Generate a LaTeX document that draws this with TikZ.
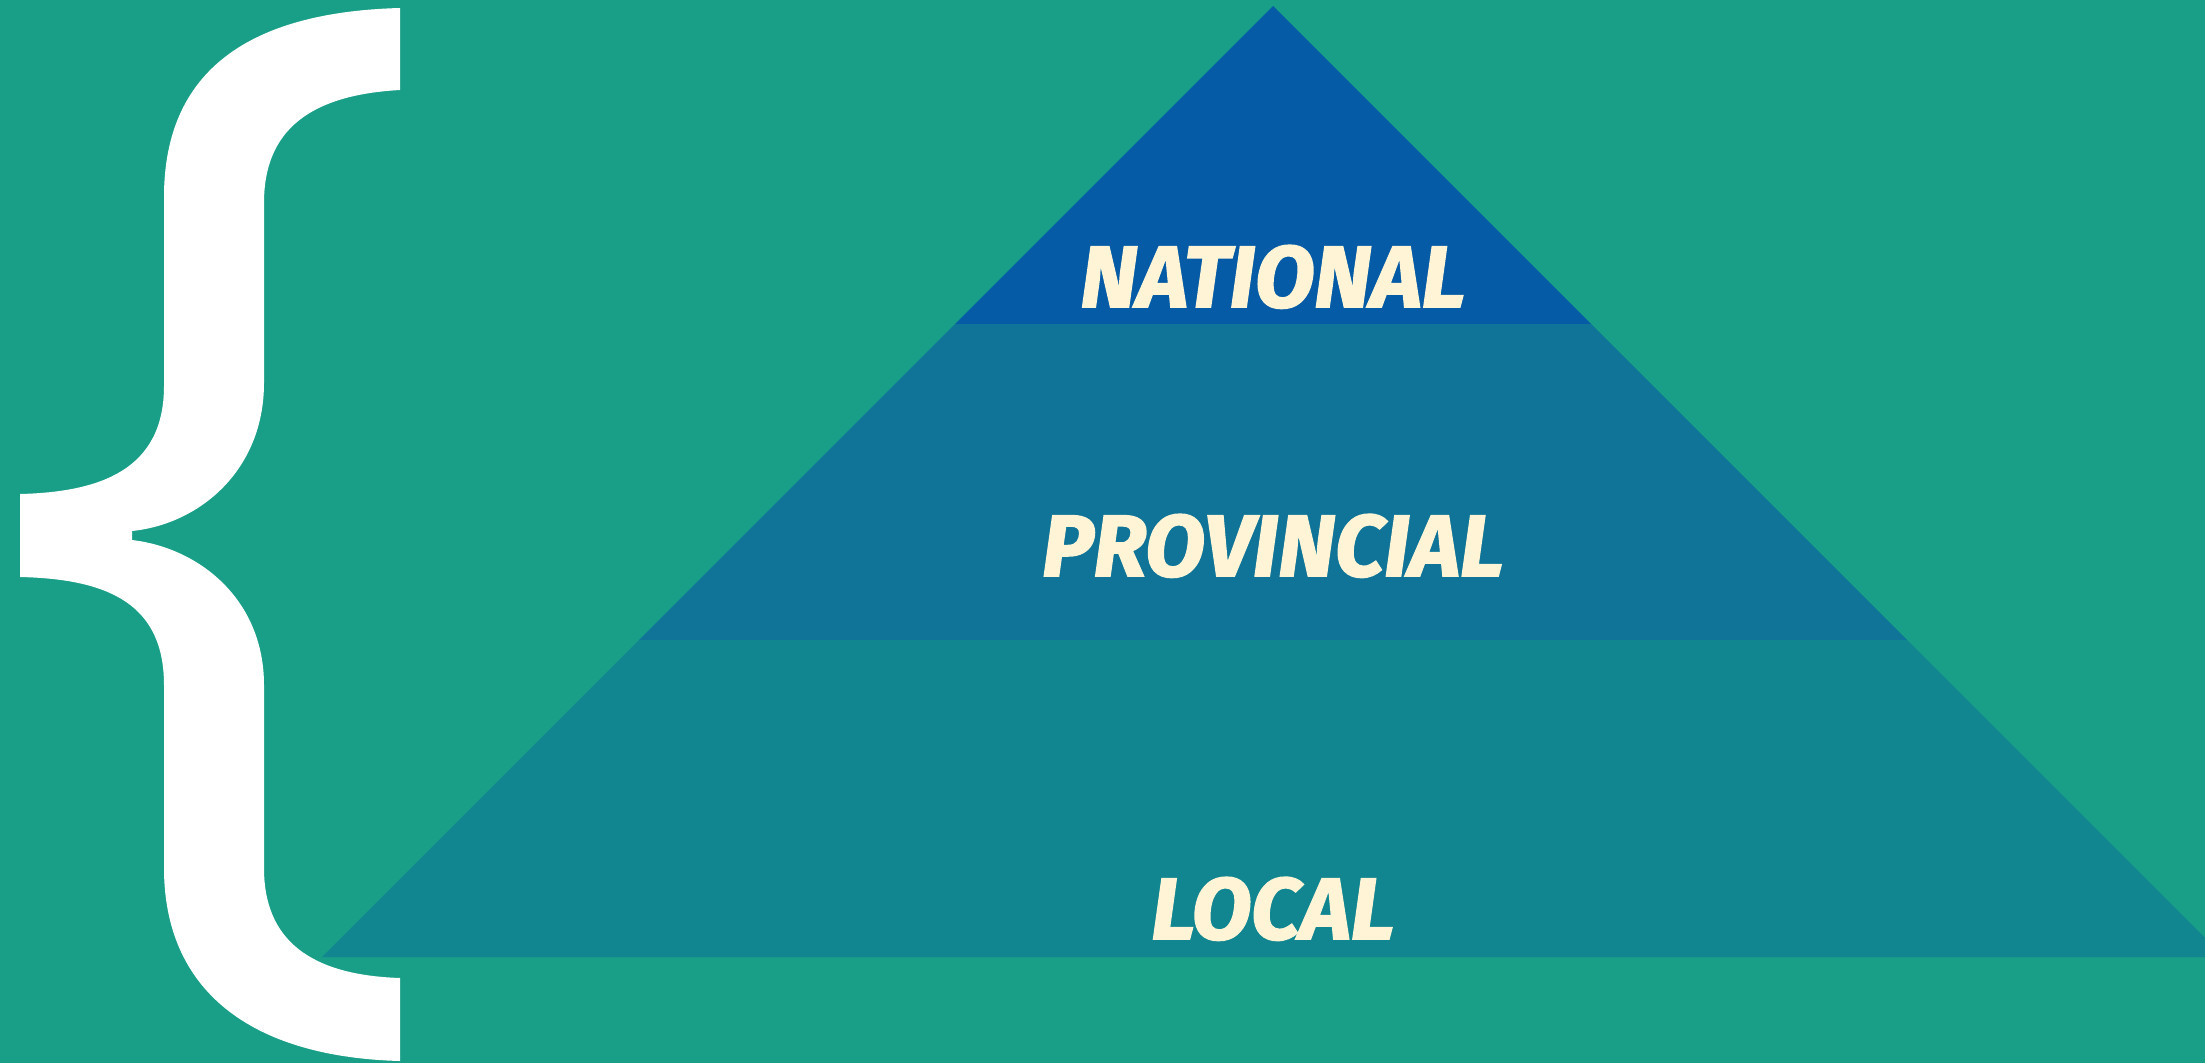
\documentclass[tikz,border=0pt]{standalone}
\usepackage{fontspec}
\setmainfont{Fira Sans}
\newfontfamily\labelfont{Fira Sans}[BoldItalicFeatures={FakeBold=2}]
\definecolor{bgteal}{RGB}{25,159,135}
\definecolor{natblue}{RGB}{5,91,165}
\definecolor{provblue}{RGB}{15,116,152}
\definecolor{localteal}{RGB}{17,134,145}
\definecolor{cream}{RGB}{255,245,214}
\tikzset{
  band/.style={draw=none},
  levellabel/.style={text=cream, font=\labelfont\fontsize{87}{100}\selectfont\bfseries\itshape, inner sep=0pt, anchor=base},
  bracefill/.style={fill=white, draw=none}
}
\begin{document}
\begin{tikzpicture}[x=1pt,y=-1pt]
\useasboundingbox (0,0) rectangle (2205,1063);
\fill[bgteal] (0,0) rectangle (2205,1063);
\begin{scope}
\clip (0,0) rectangle (2205,1063);
% bands of the pyramid
\fill[band, natblue] (1273,6) -- (955,324) -- (1591,324) -- cycle;
\fill[band, provblue] (955,324) -- (639,640) -- (1907,640) -- (1591,324) -- cycle;
\fill[band, localteal] (639,640) -- (322,957) -- (2224,957) -- (1907,640) -- cycle;
\end{scope}
% labels
\node[levellabel] (national) at (1273,307) {NATIONAL};
\node[levellabel] (provincial) at (1273,576) {PROVINCIAL};
\node[levellabel] (local) at (1273,939) {LOCAL};
% big brace
\fill[bracefill] (400,8) .. controls (250,12) and (164,70) .. (164,197)
  -- (164,386)
  .. controls (164,470) and (100,492) .. (20,494)
  -- (20,577)
  .. controls (110,579) and (164,605) .. (164,685)
  -- (164,868)
  .. controls (164,990) and (250,1057) .. (400,1061)
  -- (400,978)
  .. controls (310,975) and (264,940) .. (264,868)
  -- (264,685)
  .. controls (264,600) and (200,548) .. (132,540)
  -- (132,531)
  .. controls (200,524) and (264,470) .. (264,383)
  -- (264,203)
  .. controls (264,130) and (310,95) .. (400,90)
  -- cycle;
\end{tikzpicture}
\end{document}
